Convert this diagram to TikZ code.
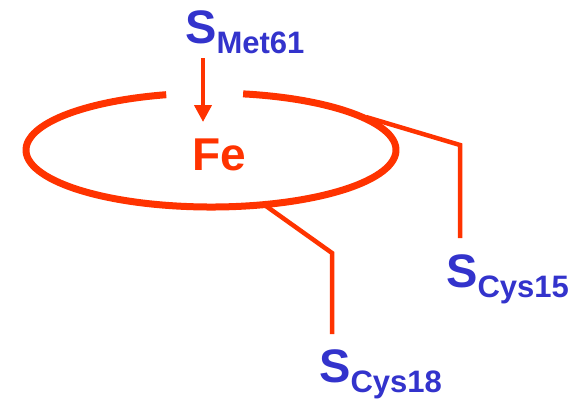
\documentclass[tikz,border=0pt]{standalone}
\usepackage{fontspec}
\setmainfont{Liberation Sans}
\usetikzlibrary{arrows.meta}
\definecolor{ligblue}{HTML}{3333CC}
\definecolor{fered}{HTML}{FF3300}
\tikzset{
  lig/.style={anchor=base west, inner sep=0pt, text=ligblue, font=\bfseries},
  bond/.style={draw=fered, line width=4.5pt},
  ring/.style={draw=fered, line width=7pt},
}
\newcommand{\ligand}[1]{{\fontsize{47}{47}\selectfont S}\raisebox{-10pt}{\fontsize{31}{31}\selectfont #1}}
\begin{document}
\begin{tikzpicture}[x=1pt,y=-1pt]
\useasboundingbox (0,0) rectangle (580,400);
% ring
\draw[ring] (211,150) ++(-80:185 and 57) arc[start angle=-80, end angle=256, x radius=185, y radius=57];
% labels
\node[lig] (met) at (185,43) {\ligand{Met61}};
\node[lig] (cys15) at (446,287) {\ligand{Cys15}};
\node[lig] (cys18) at (319,382) {\ligand{Cys18}};
\node[anchor=base, inner sep=0pt, text=fered, font=\bfseries\fontsize{46}{46}\selectfont] (fe) at (219,170) {Fe};
% coordinates
\coordinate (a1) at (203,58);
\coordinate (a2) at (203,122);
\coordinate (r15) at (366,117);
\coordinate (k15) at (460,145);
\coordinate (e15) at (460,238);
\coordinate (r18) at (266,206);
\coordinate (k18) at (332,253);
\coordinate (e18) at (332,334);
% arrow
\draw[draw=fered, line width=4pt, -{Triangle[width=17pt,length=17pt]}] (a1) -- (a2);
% bonds
\draw[bond] (r15) -- (k15) -- (e15);
\draw[bond] (r18) -- (k18) -- (e18);
\end{tikzpicture}
\end{document}
